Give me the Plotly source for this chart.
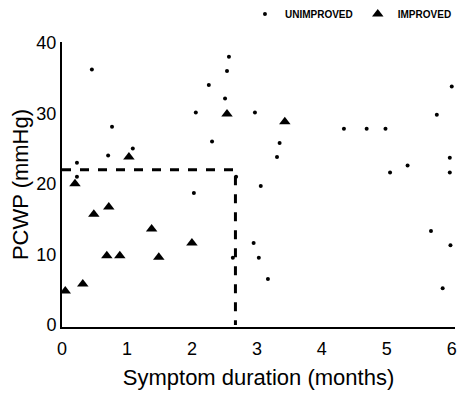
import plotly.graph_objects as go

# Improved patients (triangles)
imp_x = [0.05, 0.2, 0.32, 0.49, 0.72, 0.69, 0.89, 1.03, 1.38, 1.49, 2.0, 2.54, 3.43]
imp_y = [4.8, 20.0, 5.8, 15.7, 16.7, 9.8, 9.8, 23.8, 13.6, 9.6, 11.6, 29.9, 28.8]

# Unimproved patients (small dots)
unimp_x = [0.46, 0.77, 0.71, 1.09, 0.23, 0.23, 2.06, 2.26, 2.57, 2.54, 2.51, 2.31,
           2.97, 3.35, 3.31, 4.34, 2.68, 6.0, 5.77, 4.69, 4.98, 5.97, 5.32, 5.05,
           5.97, 3.06, 2.95, 3.03, 3.17, 2.63, 2.03, 5.68, 5.98, 5.86]
unimp_y = [36.2, 28.1, 24.0, 25.0, 23.0, 21.0, 30.1, 34.0, 38.0, 36.0, 32.1, 26.0,
           30.1, 25.8, 23.8, 27.8, 21.0, 33.8, 29.8, 27.8, 27.8, 23.7, 22.6, 21.6,
           21.6, 19.7, 11.6, 9.5, 6.5, 9.5, 18.7, 13.3, 11.3, 5.2]

# Threshold box
pcwp_cut = 22
dur_cut = 2.67

x_ticks = [0, 1, 2, 3, 4, 5, 6]
y_ticks = [0, 10, 20, 30, 40]

fig = go.Figure()
fig.add_trace(go.Scatter(
    x=[0, dur_cut, dur_cut], y=[pcwp_cut, pcwp_cut, 0], mode="lines",
    line=dict(color="black", width=3, dash="dash"), showlegend=False, hoverinfo="skip"))
fig.add_trace(go.Scatter(
    x=unimp_x, y=unimp_y, mode="markers", name="UNIMPROVED",
    marker=dict(symbol="circle", size=4, color="black")))
fig.add_trace(go.Scatter(
    x=imp_x, y=imp_y, mode="markers", name="IMPROVED",
    marker=dict(symbol="triangle-up", size=10, color="black")))

font_family = "Liberation Sans, Arial, sans-serif"
fig.update_layout(
    width=459, height=394,
    margin=dict(l=62, r=4, t=42, b=67, autoexpand=False),
    paper_bgcolor="white", plot_bgcolor="white",
    font=dict(family=font_family, color="black"),
    legend=dict(orientation="h", x=1.005, xanchor="right", y=1.098, yanchor="middle",
                font=dict(size=10, weight="bold"), itemwidth=30, bgcolor="rgba(0,0,0,0)",
                tracegroupgap=0),
    xaxis=dict(range=[0, 6.05], tickvals=x_ticks, ticktext=[str(v) for v in x_ticks],
               showgrid=False, zeroline=False, showline=True, linecolor="black",
               linewidth=2, ticks="", tickfont=dict(size=18), ticklabelstandoff=4,
               title=dict(text="Symptom duration (months)", font=dict(size=22), standoff=12)),
    yaxis=dict(range=[-0.3, 40.1], tickvals=y_ticks, ticktext=[str(v) for v in y_ticks],
               showgrid=False, zeroline=False, showline=True, linecolor="black",
               linewidth=2, ticks="", tickfont=dict(size=18),
               title=dict(text="PCWP (mmHg)", font=dict(size=22), standoff=2)),
)

fig.write_html("out.html")
